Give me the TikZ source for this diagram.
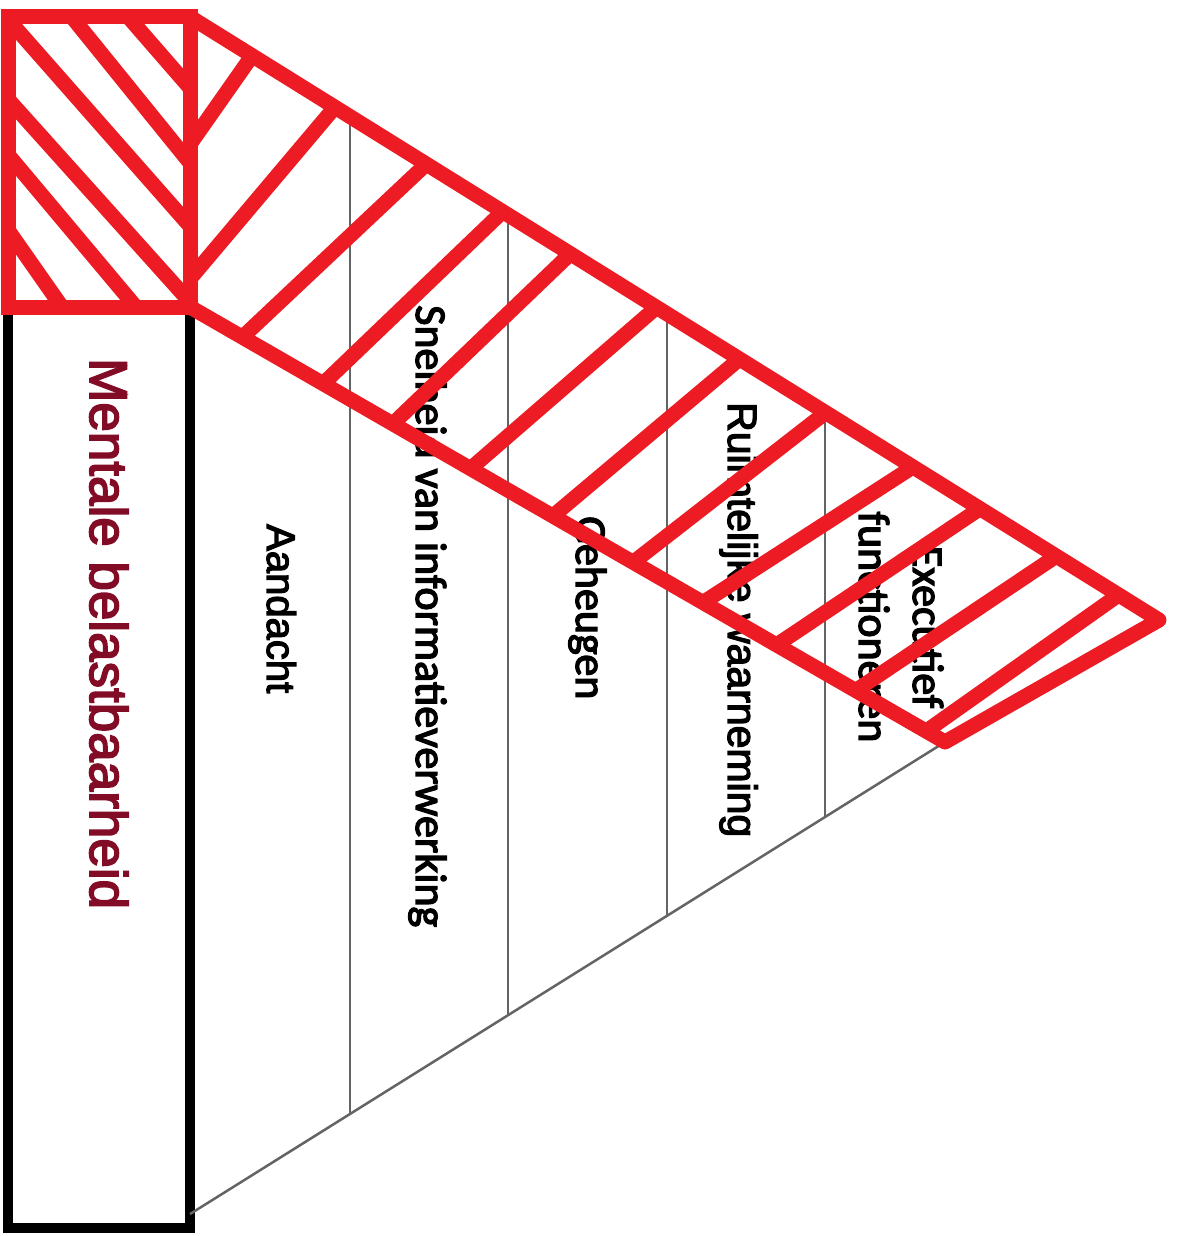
\documentclass[tikz,border=0pt]{standalone}
\usepackage{fontspec}
\usetikzlibrary{calc}
\newfontfamily\arialf[FakeBold=3]{Liberation Sans}
\newfontfamily\calibrif[FakeBold=3]{Carlito}
\definecolor{paintred}{RGB}{237,28,36}
\definecolor{labelred}{RGB}{130,12,38}
\definecolor{rulegray}{RGB}{100,100,100}

\begin{document}
\begin{tikzpicture}[x=1pt,y=-1pt,
  redstroke/.style={draw=paintred,line width=15pt},
  hatchline/.style={draw=paintred,line width=15pt},
  divider/.style={draw=rulegray,line width=2.5pt},
  frame/.style={draw=black,line width=10pt},
  vlabel/.style={rotate=-90,inner sep=0pt,anchor=base west,text=black},
  arialtext/.style={font=\arialf\fontsize{#1}{#1}\selectfont},
  calibritext/.style={font=\calibrif\fontsize{#1}{#1}\selectfont}]

\useasboundingbox (0,0) rectangle (1176,1236);
\fill[white] (0,0) rectangle (1176,1236);

% corner points
\coordinate (RTL) at (8,17);
\coordinate (RBR) at (190,307);
\coordinate (TL) at (190,17);
\coordinate (A) at (1159,620);
\coordinate (BR) at (945,742);
\coordinate (BL) at (190,307);
\coordinate (G0) at (190,1214);

% black column
\draw[frame] (8,307) rectangle (190,1228);

% grey triangle: base line and column dividers
\draw[divider] (G0) -- (BR);
\coordinate (d1t) at (350,116.6);  \coordinate (d1b) at (350,1114.0);
\coordinate (d2t) at (508,214.9);  \coordinate (d2b) at (508,1015.2);
\coordinate (d3t) at (667,313.8);  \coordinate (d3b) at (667,915.8);
\coordinate (d4t) at (825,412.2);  \coordinate (d4b) at (825,817.0);
\draw[divider] (d1t) -- (d1b);
\draw[divider] (d2t) -- (d2b);
\draw[divider] (d3t) -- (d3b);
\draw[divider] (d4t) -- (d4b);

% labels
\node[vlabel,arialtext=53,text=labelred] (mental) at (90,358) {Mentale belastbaarheid};
\node[vlabel,arialtext=40] (aandacht) at (267,524) {Aandacht};
\node[vlabel,calibritext=44] (snelheid) at (416,305) {Snelheid van informatieverwerking};
\node[vlabel,calibritext=44] (geheugen) at (576,516) {Geheugen};
\node[vlabel,arialtext=41] (ruimte) at (728,402) {Ruimtelijke waarneming};
\node[vlabel,calibritext=44,anchor=base] (exec) at (913,627) {Executief};
\node[vlabel,calibritext=44,anchor=base] (func) at (859,627) {functioneren};

% hatching of the red square
\begin{scope}
  \clip (RTL) rectangle (RBR);
  \foreach \ax/\ay/\bx/\by in {20/33/182/217, 80/27/182/153, 137/27/177/73,
      15/107/182/293, 15/163/130/300, 15/240/57/300}
    \draw[hatchline] ($(\ax,\ay)!-0.6!(\bx,\by)$) -- ($(\bx,\by)!-0.6!(\ax,\ay)$);
\end{scope}

% hatching of the red band
\begin{scope}
  \clip (TL) -- (A) -- (BR) -- (BL) -- cycle;
  \foreach \ax/\ay/\bx/\by in {200/130/247/63, 200/267/330/113, 250/330/420/170,
      327/380/497/217, 400/417/567/257, 477/463/650/313, 560/510/730/367,
      640/557/820/417, 710/598/902/474, 781/642/972/514, 858/689/1043/565,
      925/732/1110/601}
    \draw[hatchline] ($(\ax,\ay)!-0.5!(\bx,\by)$) -- ($(\bx,\by)!-0.5!(\ax,\ay)$);
\end{scope}

% red outlines
\draw[redstroke,line join=miter] (RTL) rectangle (RBR);
\draw[redstroke,line join=round,line cap=round] (TL) -- (A) -- (BR) -- (BL);

\end{tikzpicture}
\end{document}
